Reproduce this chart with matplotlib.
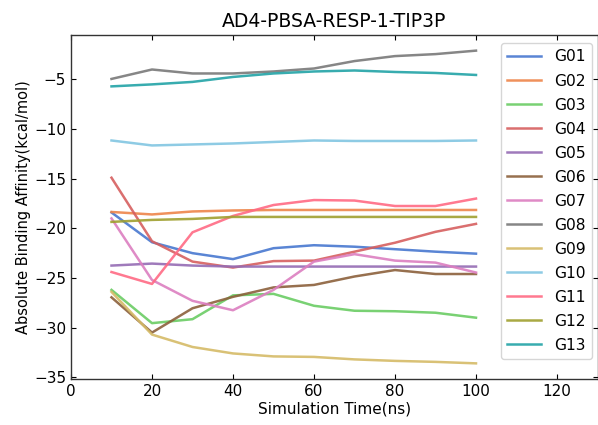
import matplotlib
matplotlib.use("Agg")
import matplotlib.pyplot as plt

# simulation time (ns)
times = [10, 20, 30, 40, 50, 60, 70, 80, 90, 100]

labels = ["G01", "G02", "G03", "G04", "G05", "G06", "G07",
          "G08", "G09", "G10", "G11", "G12", "G13"]

g01 = [-18.4, -21.4, -22.5, -23.1, -22.0, -21.7, -21.85, -22.1, -22.35, -22.55]
g02 = [-18.35, -18.6, -18.3, -18.2, -18.15, -18.15, -18.15, -18.15, -18.15, -18.15]
g03 = [-26.2, -29.55, -29.15, -26.75, -26.6, -27.8, -28.3, -28.35, -28.5, -29.0]
g04 = [-14.9, -21.3, -23.35, -23.95, -23.3, -23.25, -22.35, -21.45, -20.35, -19.55]
g05 = [-23.75, -23.55, -23.75, -23.85, -23.85, -23.85, -23.85, -23.85, -23.85, -23.85]
g06 = [-26.95, -30.5, -28.05, -26.9, -25.95, -25.7, -24.85, -24.2, -24.6, -24.6]
g07 = [-19.0, -25.2, -27.3, -28.25, -26.2, -23.35, -22.6, -23.25, -23.45, -24.45]
g08 = [-4.95, -4.0, -4.4, -4.4, -4.2, -3.9, -3.15, -2.65, -2.45, -2.1]
g09 = [-26.4, -30.7, -31.95, -32.6, -32.9, -32.95, -33.2, -33.35, -33.45, -33.6]
g10 = [-11.15, -11.65, -11.55, -11.45, -11.3, -11.15, -11.2, -11.2, -11.2, -11.15]
g11 = [-24.4, -25.6, -20.4, -18.75, -17.65, -17.15, -17.2, -17.75, -17.75, -17.0]
g12 = [-19.35, -19.15, -19.05, -18.85, -18.85, -18.85, -18.85, -18.85, -18.85, -18.85]
g13 = [-5.7, -5.5, -5.25, -4.75, -4.4, -4.2, -4.1, -4.25, -4.35, -4.55]

series = [g01, g02, g03, g04, g05, g06, g07, g08, g09, g10, g11, g12, g13]

colors = ["#4878d0", "#ee854a", "#6acc64", "#d65f5f", "#956cb4", "#8c613c",
          "#dc7ec0", "#797979", "#d5bb67", "#82c6e2", "#ff6a84", "#a0a030",
          "#22a3a6"]

plt.rcParams["font.family"] = "DejaVu Sans"

fig = plt.figure(figsize=(5.98, 4.25), dpi=100)
ax = fig.add_axes([71 / 598., 46 / 425., 526.5 / 598., 344 / 425.])

for label, values, color in zip(labels, series, colors):
    ax.plot(times, values, color=color, label=label, lw=1.8, alpha=0.9)

ax.set_xlim(0, 130)
ax.set_title("AD4-PBSA-RESP-1-TIP3P", fontsize=13.5)
ax.set_xlabel("Simulation Time(ns)", fontsize=11, labelpad=2)
ax.set_ylabel("Absolute Binding Affinity(kcal/mol)", fontsize=10.5, labelpad=2)
ax.tick_params(direction="in", top=True, right=True, labelsize=11)
for spine in ax.spines.values():
    spine.set_color("#333333")
    spine.set_linewidth(1.0)

ax.legend(loc="upper right", fontsize=11.2, handlelength=2.2,
          labelspacing=0.58, bbox_to_anchor=(0.995, 0.985),
          borderaxespad=0.2)

fig.savefig("out.png", dpi=100)
